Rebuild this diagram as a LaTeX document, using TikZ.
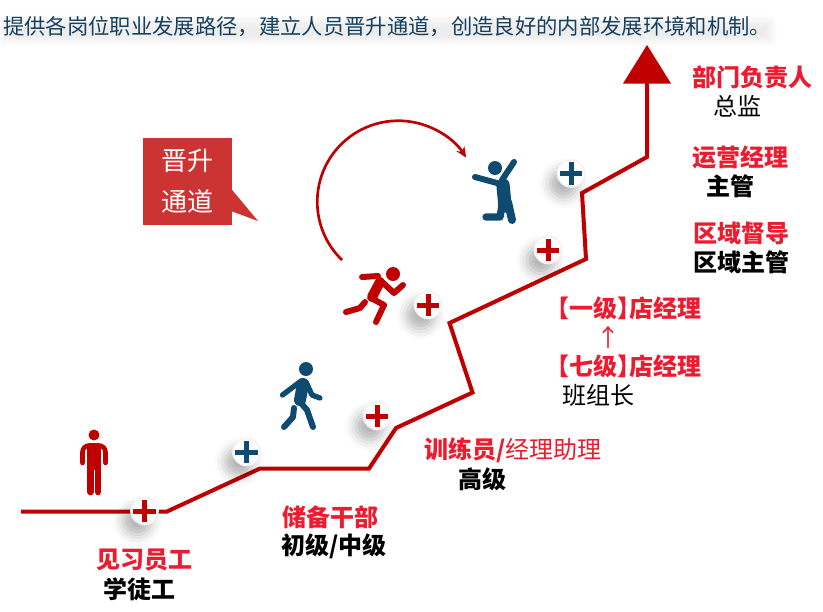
\documentclass[tikz,border=0pt]{standalone}
\usepackage{fontspec}
\setmainfont{Noto Sans CJK SC}
\usepackage{tikz}
\usetikzlibrary{positioning,arrows,arrows.meta,calc,shadows.blur}
\definecolor{lineRed}{HTML}{C00000}
\definecolor{labelRed}{HTML}{ED1B2F}
\definecolor{iconBlue}{HTML}{0F4B70}
\definecolor{tagRed}{HTML}{CC3333}
\definecolor{titleBlue}{HTML}{17405F}
\tikzset{
    on grid,
    node distance=21.75pt,
    stairs/.style = {
        draw=lineRed,
        line width=3pt,
        line join=miter
    },
    plusmark/.style = {
        draw=black!5,
        shape=circle,
        fill=white,
        line width=1pt,
        inner sep=0pt,
        minimum size=20.5pt,
        blur shadow={shadow xshift=-5.5pt, shadow yshift=-7.5pt, shadow blur radius=8pt, shadow opacity=30},
        path picture={
            \path[draw=#1, line width=3.75pt] ($(path picture bounding box.center)+(-8.6pt,0pt)$) -- ($(path picture bounding box.center)+(8.6pt,0pt)$);
            \path[draw=#1, line width=3.75pt] ($(path picture bounding box.center)+(0pt,-8.6pt)$) -- ($(path picture bounding box.center)+(0pt,8.6pt)$);
        }
    },
    headdot/.style = {
        shape=circle,
        fill=#1,
        inner sep=0pt,
        minimum size=10.5pt
    },
    limb/.style = {
        draw=#1,
        line width=4.5pt,
        line cap=round,
        line join=round
    },
    redtext/.style = {
        text=labelRed,
        font=\fontsize{18pt}{21pt}\selectfont\bfseries
    },
    blacktext/.style = {
        text=black,
        font=\fontsize{18pt}{21pt}\selectfont\bfseries
    },
    plaintext/.style = {
        text=black,
        font=\fontsize{18pt}{21pt}\selectfont
    },
    >=latex',
}

\begin{document}
\begin{tikzpicture}[x=0.75pt,y=-0.75pt]
    \useasboundingbox (0,0) rectangle (823,611);

    % title
    \node[anchor=west, inner sep=0pt, text=titleBlue, font=\fontsize{16pt}{19pt}\selectfont,
        blur shadow={shadow xshift=0pt, shadow yshift=-3pt, shadow blur radius=5pt, shadow opacity=7}] (title) at (3,27) {提供各岗位职业发展路径，建立人员晋升通道，创造良好的内部发展环境和机制。};

    % stairs
    \coordinate (s0) at (21,511.5);
    \coordinate (s1) at (167,511.5);
    \coordinate (s2) at (260,468.5);
    \coordinate (s3) at (369,468.5);
    \coordinate (s4) at (396,428);
    \coordinate (s5) at (472.5,392.5);
    \coordinate (s6) at (449.5,323);
    \coordinate (s7) at (586,259);
    \coordinate (s8) at (582,193);
    \coordinate (s9) at (647,157);
    \coordinate (s10) at (647,80);
    \coordinate (tipl) at (623,83.5);
    \coordinate (tipt) at (647,45);
    \coordinate (tipr) at (671,83.5);
    \path[stairs] (s0) -- (s1) -- (s2) -- (s3) -- (s4) -- (s5) -- (s6) -- (s7) -- (s8) -- (s9) -- (s10);
    \path[fill=lineRed] (tipl) -- (tipt) -- (tipr) -- cycle;

    \node[plusmark=lineRed] (plus0) at (144.5,511) {};
    \node[plusmark=iconBlue] (plus1) at (246.5,452) {};
    \node[plusmark=lineRed] (plus2) at (377,416) {};
    \node[plusmark=lineRed] (plus3) at (428,305) {};
    \node[plusmark=lineRed] (plus4) at (548,250) {};
    \node[plusmark=iconBlue] (plus5) at (571,173.5) {};

    % tag
    \coordinate (tagtail) at (258,221);
    \node[fill=tagRed, text=white, minimum width=66.75pt, minimum height=65.25pt, inner sep=0pt, align=center, font=\fontsize{19.5pt}{30.75pt}\selectfont] (tag) at (187.5,181.5) {晋升\\通道};
    \path[fill=tagRed] ($(tag.east)+(-1pt,-5.25pt)$) -- (tagtail) -- ($(tag.east)+(0pt,-22.5pt)$) -- ($(tag.east)+(-1pt,-22.5pt)$) -- cycle;

    % jump curve
    \coordinate (jumpstart) at (342,260);
    \path[draw=lineRed, line width=2pt, -{Stealth[length=8pt,width=7pt]}] (jumpstart) arc[start angle=134, end angle=327, radius=81];

    % standing man
    \node[headdot=lineRed, minimum size=8.25pt] (manhead) at (94,435) {};
    \path[limb=lineRed, line width=3.5pt, rounded corners=5pt] (82.5,463) -- (82.5,445.5) -- (105.5,445.5) -- (105.5,463);
    \path[fill=lineRed] (87,444) rectangle (101,470);
    \path[limb=lineRed, line width=5pt] (90.5,465) -- (90.5,492);
    \path[limb=lineRed, line width=5pt] (98,465) -- (98,492);

    % walker
    \node[headdot=iconBlue] (walkerhead) at (306,369) {};
    \path[limb=iconBlue, line width=9pt] (303,384) -- (300,400);
    \path[limb=iconBlue, line width=4pt] (301,381) -- (282.5,395);
    \path[limb=iconBlue, line width=4pt] (306,382) -- (312,395) -- (320,398);
    \path[limb=iconBlue] (300,402) -- (307,410) -- (313,427);
    \path[limb=iconBlue] (294,408) -- (293,417) -- (284,427);

    % runner
    \node[headdot=lineRed] (runnerhead) at (393,274) {};
    \path[limb=lineRed, line width=7.5pt] (380,282) -- (372,297);
    \path[limb=lineRed] (378,276) -- (362,277);
    \path[limb=lineRed] (380,280) -- (394,293) -- (403,285);
    \path[limb=lineRed] (371,298) -- (384,305) -- (376,322);
    \path[limb=lineRed] (365,302) -- (360,308) -- (346,312);

    % jumper
    \node[headdot=iconBlue] (jumperhead) at (495,168) {};
    \path[limb=iconBlue, line width=10pt] (503,185) -- (505,206);
    \path[limb=iconBlue] (475,177) -- (497,183);
    \path[limb=iconBlue] (502,180) -- (514,162);
    \path[limb=iconBlue, line width=6pt] (508,202) -- (512,220);
    \path[limb=iconBlue, line width=5.5pt] (502,205) -- (500,217) -- (486,217);

    % labels
    \node[redtext] (trainee) at (144.5,560) {见习员工};
    \node[blacktext, below of=trainee, xshift=-3.75pt] (apprentice) {学徒工};
    \node[redtext] (reserve) at (330,517) {储备干部};
    \node[blacktext, below of=reserve, xshift=3pt] (junior) {初级/中级};
    \node[redtext] (trainer) at (513,450) {训练员/\textmd{经理助理}};
    \node[blacktext, below of=trainer, xshift=-23.25pt] (senior) {高级};
    \node[redtext] (grade7) at (629,366) {\kern-9pt【七级】\kern-9pt店经理};
    \node[plaintext, below of=grade7, xshift=-23.25pt] (teamlead) {班组长};
    \node[plaintext, text=labelRed, above of=grade7, xshift=-15.75pt] (upmark) {↑};
    \node[redtext, above of=upmark, xshift=15.75pt] (grade1) {\kern-9pt【一级】\kern-9pt店经理};
    \node[redtext] (region) at (741,233) {区域督导};
    \node[blacktext, below of=region] (regionlead) {区域主管};
    \node[redtext] (ops) at (740,157) {运营经理};
    \node[blacktext, below of=ops, xshift=-7.5pt] (supervisor) {主管};
    \node[redtext] (dept) at (752,77) {部门负责人};
    \node[plaintext, below of=dept, xshift=-11.25pt] (director) {总监};
\end{tikzpicture}
\end{document}
